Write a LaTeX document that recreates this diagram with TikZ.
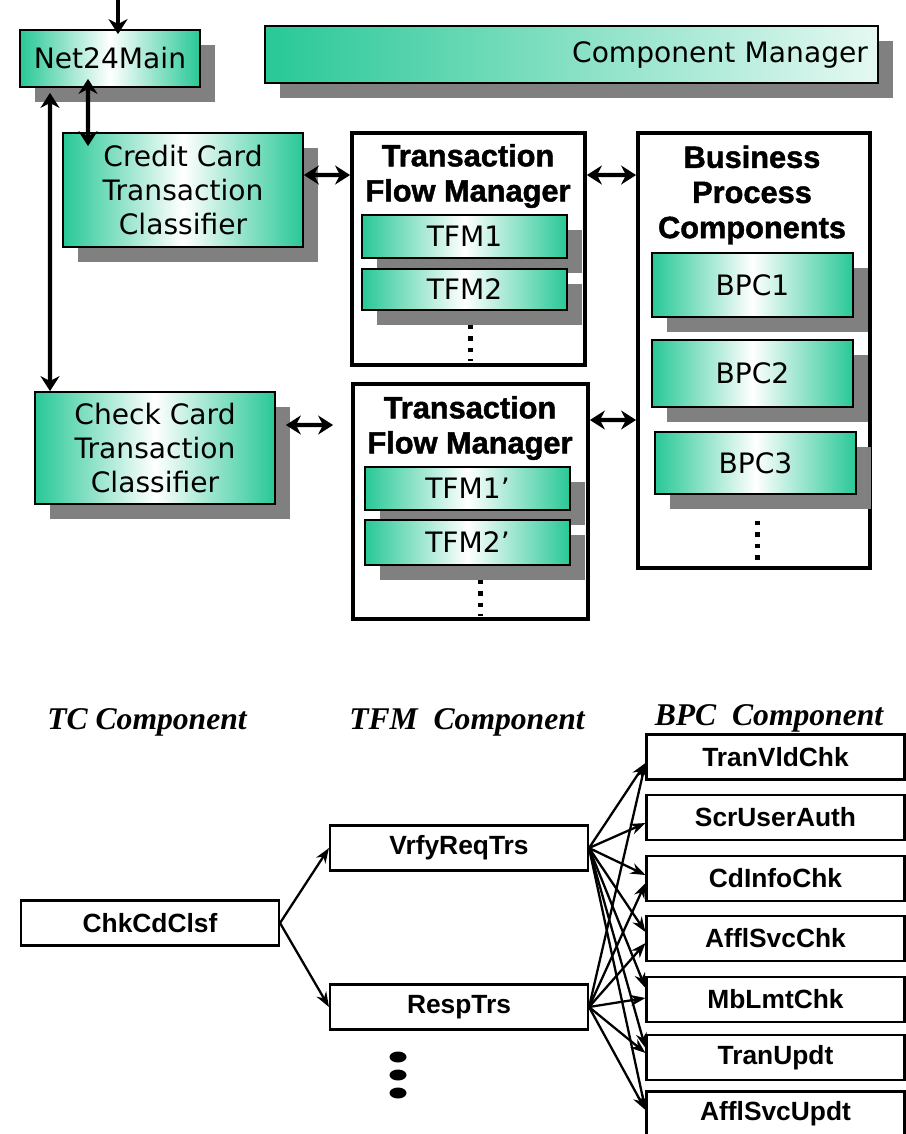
\documentclass[tikz,border=0pt]{standalone}
\usepackage{fontspec}
\newfontfamily\pixfont{DejaVu Sans}
\newfontfamily\arialfont{Liberation Sans}
\newfontfamily\heavyfont{Liberation Sans}[BoldFeatures={FakeBold=1.5}]
\newfontfamily\timesfont{Liberation Serif}
\usetikzlibrary{arrows.meta,shadows,positioning}
\definecolor{tcgreen}{RGB}{40,200,150}

\begin{document}
\begin{tikzpicture}[x=0.02cm, y=-0.02cm,
        gbox/.style={
            rectangle, draw=black, line width=1pt, inner sep=0pt, align=center,
            left color=tcgreen, right color=tcgreen, middle color=white,
            drop shadow={shadow xshift=0.3cm, shadow yshift=-0.3cm, fill=black!50, opacity=1},
            font=\pixfont\fontsize{16}{19.6}\selectfont
        },
        framebox/.style={rectangle, draw=black, line width=2.2pt, fill=white, inner sep=0pt},
        ttl/.style={align=center, font=\heavyfont\bfseries\fontsize{17.5}{20}\selectfont},
        dbl/.style={{Stealth[length=0.3cm,width=0.38cm]}-{Stealth[length=0.3cm,width=0.38cm]}, line width=2.5pt},
        vdots/.style={line width=2.5pt, dash pattern=on 2.5pt off 4pt},
        lbox/.style={
            rectangle, draw=black, line width=1.2pt, inner sep=0pt,
            minimum width=5.16cm, minimum height=0.9cm,
            font=\arialfont\bfseries\fontsize{15}{18}\selectfont
        },
        coltitle/.style={font=\timesfont\bfseries\itshape\fontsize{18}{21}\selectfont},
        arr/.style={-{Stealth[length=0.3cm,width=0.22cm]}, line width=1.3pt}
    ]
    \useasboundingbox (0,0) rectangle (906,1134);

    % Top: classifiers and managers
    \node[gbox, minimum width=3.6cm, minimum height=1.14cm] (net) at (110,58.5) {Net24Main};
    \node[gbox, right color=tcgreen!12, minimum width=12.26cm, minimum height=1.14cm,
          text width=11.86cm, align=right] (cmgr) at (571.5,54.5) {Component Manager};
    \node[gbox, minimum width=4.8cm, minimum height=2.28cm] (ccc) at (183,190) {Credit Card\\Transaction\\Classifier};
    \node[gbox, minimum width=4.8cm, minimum height=2.24cm] (chk) at (155,448) {Check Card\\Transaction\\Classifier};

    % Frames
    \node[framebox, minimum width=4.66cm, minimum height=4.64cm] (tfmA) at (468.5,249) {};
    \node[framebox, minimum width=4.7cm, minimum height=4.7cm] (tfmB) at (470.5,501.5) {};
    \node[framebox, minimum width=4.64cm, minimum height=8.7cm] (bpc) at (754,350.5) {};

    \node[ttl] (tfmAt) at (468,176) {Transaction\\Flow Manager};
    \node[ttl] (tfmBt) at (470,428) {Transaction\\Flow Manager};
    \node[ttl] (bpct) at (752,195) {Business\\Process\\Components};

    % Inner components
    \node[gbox, minimum width=4.1cm, minimum height=0.86cm] (tfm1) at (464.5,236.5) {TFM1};
    \node[gbox, minimum width=4.1cm, minimum height=0.82cm] (tfm2) at (464.5,289.5) {TFM2};
    \node[gbox, minimum width=4.1cm, minimum height=0.86cm] (tfm1p) at (467.5,488.5) {TFM1’};
    \node[gbox, minimum width=4.1cm, minimum height=0.9cm] (tfm2p) at (467.5,542.5) {TFM2’};
    \node[gbox, minimum width=4.02cm, minimum height=1.28cm] (bpc1) at (752.5,285) {BPC1};
    \node[gbox, minimum width=4.02cm, minimum height=1.34cm] (bpc2) at (752.5,373.5) {BPC2};
    \node[gbox, minimum width=4.02cm, minimum height=1.24cm] (bpc3) at (755.5,463) {BPC3};

    \draw[vdots] (tfm2.south) ++(6,14) -- ++(0,36);
    \draw[vdots] (tfm2p.south) ++(13,14) -- ++(0,36);
    \draw[vdots] (bpc3.south) ++(2,26) -- ++(0,42);

    % Top arrows
    \coordinate (topin) at (118,0);
    \draw[-{Stealth[length=0.3cm,width=0.38cm]}, line width=2.5pt] (topin) -- ([yshift=-0.1cm]topin |- net.north);
    \draw[dbl] ([xshift=-0.44cm,yshift=0.18cm]net.south) -- ([xshift=-1.9cm,yshift=-0.28cm]ccc.north);
    \draw[dbl] ([xshift=-1.2cm,yshift=-0.1cm]net.south) -- ([xshift=-2.1cm]chk.north);
    \draw[dbl] ([yshift=0.3cm]ccc.east) -- ([yshift=1.48cm]tfmA.west);
    \draw[dbl] ([yshift=1.48cm]tfmA.east) -- ([yshift=3.51cm]bpc.west);
    \draw[dbl] ([xshift=0.2cm,yshift=0.46cm]chk.east) -- ([xshift=-0.36cm,yshift=1.53cm]tfmB.west);
    \draw[dbl] ([yshift=1.63cm]tfmB.east) -- ([yshift=-1.39cm]bpc.west);

    % Bottom: component call tree
    \node[coltitle] (tcT) at (147,722) {TC Component};
    \node[coltitle] (tfmT) at (467,722) {TFM\ \ Component};
    \node[coltitle] (bpcT) at (769,718) {BPC\ \ Component};

    \node[lbox] (clsf) at (150,923) {ChkCdClsf};
    \node[lbox] (vrfy) at (459,848) {VrfyReqTrs};
    \node[lbox] (resp) at (459,1007) {RespTrs};

    \node[lbox] (tvc) at (775.5,757) {TranVldChk};
    \node[lbox] (sua) at (775.5,817.5) {ScrUserAuth};
    \node[lbox] (cic) at (775.5,878.5) {CdInfoChk};
    \node[lbox] (asc) at (775.5,938.5) {AfflSvcChk};
    \node[lbox] (mlc) at (775.5,999.5) {MbLmtChk};
    \node[lbox] (tu) at (775.5,1057.5) {TranUpdt};
    \node[lbox] (asu) at (775.5,1114) {AfflSvcUpdt};

    \foreach \y in {1057,1075,1093}
        \fill (398,\y) ellipse [x radius=0.17cm, y radius=0.11cm];

    \draw[arr] (clsf.east) -- (vrfy.west);
    \draw[arr] (clsf.east) -- (resp.west);
    \foreach \t/\d in {tvc/-0.12, sua/-0.11, cic/0.07, asc/0.13, mlc/0.23, tu/0.19, asu/0.08}
        \draw[arr] (vrfy.east) -- ([yshift=\d cm]\t.west);
    \foreach \t/\d in {tvc/-0.12, cic/-0.09, asc/-0.09, mlc/0.03, tu/0.09, asu/0.08}
        \draw[arr] (resp.east) -- ([yshift=\d cm]\t.west);
\end{tikzpicture}
\end{document}
